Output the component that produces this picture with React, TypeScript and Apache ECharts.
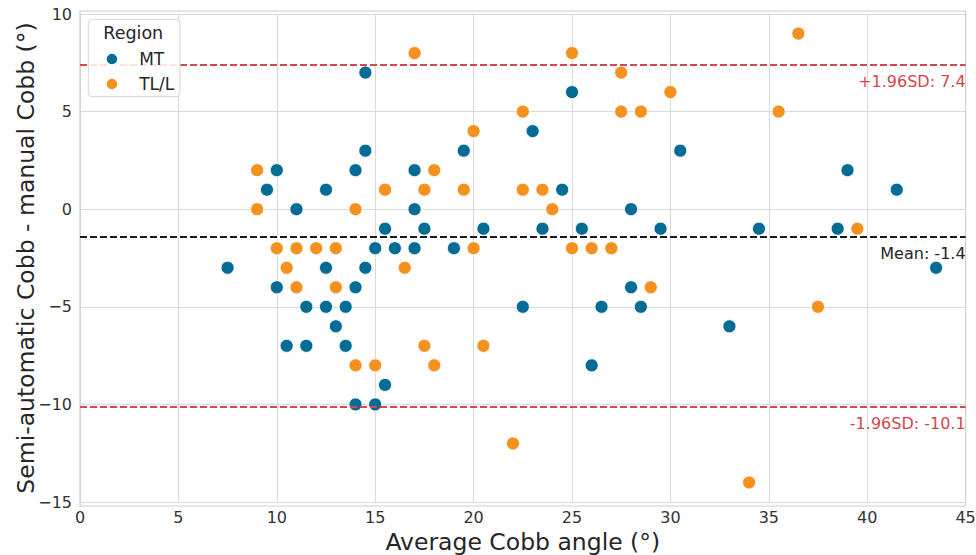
import React, { useEffect, useRef } from "react";
import * as echarts from "echarts";

const mtPoints: number[][] = [
  [10, 2], [9.5, 1], [12.5, 1], [11, 0], [7.5, -3], [12.5, -3], [10, -4], [11.5, -5], [12.5, -5], [10.5, -7], [11.5, -7],
  [14.5, 7], [25, 6], [23, 4], [14.5, 3], [19.5, 3], [14, 2], [17, 2], [24.5, 1], [17, 0], [15.5, -1], [17.5, -1], [20.5, -1], [23.5, -1],
  [15, -2], [16, -2], [17, -2], [19, -2], [14.5, -3], [14, -4], [13.5, -5], [22.5, -5], [13, -6], [13.5, -7], [15.5, -9], [14, -10], [15, -10],
  [30.5, 3], [28, 0], [25.5, -1], [29.5, -1], [34.5, -1], [28, -4], [26.5, -5], [28.5, -5], [33, -6], [26, -8],
  [39, 2], [41.5, 1], [38.5, -1], [43.5, -3],
];

const tllPoints: number[][] = [
  [9, 2], [9, 0], [10, -2], [11, -2], [12, -2], [10.5, -3], [11, -4],
  [17, 8], [25, 8], [22.5, 5], [20, 4], [18, 2], [15.5, 1], [17.5, 1], [19.5, 1], [22.5, 1], [23.5, 1], [14, 0], [24, 0],
  [13, -2], [20, -2], [25, -2], [16.5, -3], [13, -4], [17.5, -7], [20.5, -7], [14, -8], [15, -8], [18, -8], [22, -12],
  [27.5, 7], [36.5, 9], [30, 6], [27.5, 5], [28.5, 5], [35.5, 5], [26, -2], [27, -2], [29, -4], [34, -14],
  [39.5, -1], [37.5, -5],
];

const seriesNames = ["MT", "TL/L"];
const meanDiff = -1.4;
const upperLoA = 7.4;
const lowerLoA = -10.1;

const FONT = "'DejaVu Sans', Verdana, sans-serif";
const BLUE = "#026c94";
const ORANGE = "#f5911e";
const RED = "#d4474b";

export default function App() {
  const ref = useRef<HTMLDivElement>(null);
  useEffect(() => {
    if (!ref.current) return;
    const chart = echarts.init(ref.current, undefined, { renderer: "svg" });
    const fmt = (v: number) => (v < 0 ? "\u2212" + Math.abs(v) : String(v));
    const lineLabel = (text: string, color: string) => ({
      show: true,
      position: "insideEndBottom",
      formatter: text,
      color,
      fontFamily: FONT,
      fontSize: 16,
      distance: [0, 9],
    });
    chart.setOption({
      animation: false,
      textStyle: { fontFamily: FONT },
      grid: { left: 80, right: 10.4, top: 14, bottom: 53, containLabel: false, outerBoundsMode: "none" },
      graphic: [
        {
          type: "rect",
          shape: { x: 80, y: 11, width: 885.6, height: 495 },
          style: { fill: "none", stroke: "#d0d0d0", lineWidth: 1.2 },
          silent: true,
          z: 1,
        },
        {
          type: "rect",
          shape: { x: 88.3, y: 19.3, width: 91.7, height: 77.4, r: 4 },
          style: { fill: "rgba(255,255,255,0.85)", stroke: "#d6d6d6", lineWidth: 1 },
          silent: true,
          z: 50,
        },
        {
          type: "text",
          x: 103.3,
          y: 33.3,
          style: { text: "Region", fontFamily: FONT, fontSize: 17.5, fill: "#262626", verticalAlign: "middle" },
          silent: true,
          z: 51,
        },
      ],
      legend: {
        orient: "vertical",
        left: 99.7,
        top: 45.5,
        itemWidth: 12.5,
        itemHeight: 12.5,
        itemGap: 8,
        icon: "circle",
        selectedMode: false,
        z: 52,
        textStyle: { fontFamily: FONT, fontSize: 17, color: "#262626", padding: [0, 0, 0, 16] },
        data: seriesNames,
      },
      xAxis: {
        type: "value",
        min: 0,
        max: 45,
        interval: 5,
        name: "Average Cobb angle (\u00b0)",
        nameLocation: "middle",
        nameGap: 28,
        nameMoveOverlap: false,
        nameTextStyle: { fontFamily: FONT, fontSize: 23.5, color: "#262626" },
        axisLine: { show: false },
        axisTick: { show: false },
        axisLabel: { fontFamily: FONT, fontSize: 16, color: "#333", margin: 7, formatter: fmt },
        splitLine: { show: true, lineStyle: { color: "#dadada", width: 1 } },
      },
      yAxis: {
        type: "value",
        min: -15,
        max: 10,
        interval: 5,
        name: "Semi-automatic Cobb - manual Cobb (\u00b0)",
        nameLocation: "middle",
        nameGap: 42,
        nameMoveOverlap: false,
        nameTextStyle: { fontFamily: FONT, fontSize: 23.5, color: "#262626" },
        axisLine: { show: false },
        axisTick: { show: false },
        axisLabel: { fontFamily: FONT, fontSize: 16, color: "#333", margin: 8, formatter: fmt },
        splitLine: { show: true, lineStyle: { color: "#dadada", width: 1 } },
      },
      series: [
        {
          name: seriesNames[0],
          type: "scatter",
          data: mtPoints,
          symbolSize: 13,
          itemStyle: { color: BLUE, borderColor: "#fff", borderWidth: 0.8, opacity: 1 },
          z: 3,
          markLine: {
            silent: true,
            symbol: "none",
            precision: 2,
            data: [
              {
                yAxis: meanDiff,
                lineStyle: { color: "#1a1a1a", type: [7, 3], width: 2 },
                label: lineLabel("Mean: " + meanDiff, "#262626"),
              },
              {
                yAxis: upperLoA,
                lineStyle: { color: RED, type: [7, 3], width: 2 },
                label: lineLabel("+1.96SD: " + upperLoA, RED),
              },
              {
                yAxis: lowerLoA,
                lineStyle: { color: RED, type: [7, 3], width: 2 },
                label: lineLabel("-1.96SD: " + lowerLoA, RED),
              },
            ],
          },
        },
        {
          name: seriesNames[1],
          type: "scatter",
          data: tllPoints,
          symbolSize: 13,
          itemStyle: { color: ORANGE, borderColor: "#fff", borderWidth: 0.8, opacity: 1 },
          z: 3,
        },
      ],
    });
    return () => chart.dispose();
  }, []);
  return <div ref={ref} style={{ width: 976, height: 555, position: "absolute", left: 0, top: 0 }} />;
}
